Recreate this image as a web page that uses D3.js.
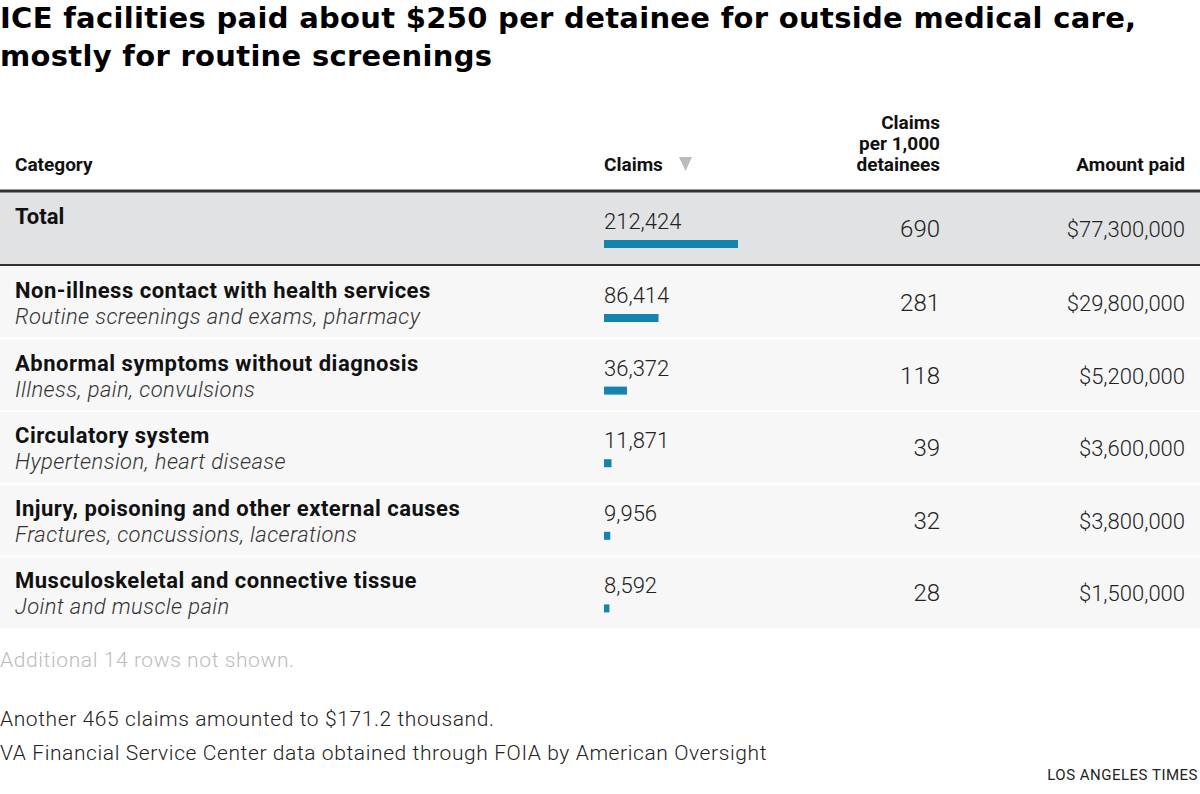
<!DOCTYPE html>
<html><head><meta charset="utf-8">
<script src="https://cdn.jsdelivr.net/npm/d3@7"></script>
<style>body{margin:0;background:#fff}</style>
</head><body>
<svg id="chart" width="1200" height="794"></svg>
<script>
const categories = ["Non-illness contact with health services", "Abnormal symptoms without diagnosis", "Circulatory system", "Injury, poisoning and other external causes", "Musculoskeletal and connective tissue"];
const subtitles = ["Routine screenings and exams, pharmacy", "Illness, pain, convulsions", "Hypertension, heart disease", "Fractures, concussions, lacerations", "Joint and muscle pain"];
const claims = [86414, 36372, 11871, 9956, 8592];
const perThousand = [281, 118, 39, 32, 28];
const amounts = [29800000, 5200000, 3600000, 3800000, 1500000];
const total = {claims: 212424, per: 690, amount: 77300000};

const svg = d3.select("#chart");
const bold = "'Roboto', sans-serif";
const light = "Roboto, sans-serif";
const fmt = d3.format(",");
const money = d => "$" + d3.format(",")(d);

svg.append("text").attr("x", 0).attr("y", 28).attr("font-family", "'DejaVu Sans', sans-serif").attr("font-weight", "bold")
  .attr("font-size", 29).attr("letter-spacing", 0.3).text("ICE facilities paid about $250 per detainee for outside medical care,");
svg.append("text").attr("x", 0).attr("y", 66).attr("font-family", "'DejaVu Sans', sans-serif").attr("font-weight", "bold")
  .attr("font-size", 29).attr("letter-spacing", 0.3).text("mostly for routine screenings");

// header
const hdr = (x, y, t, anchor) => svg.append("text").attr("x", x).attr("y", y).attr("text-anchor", anchor || "start")
  .attr("font-family", bold).attr("font-weight", "bold").attr("font-size", 19).attr("fill", "#111").text(t);
hdr(15, 171, "Category");
hdr(604, 171, "Claims");
svg.append("path").attr("d", "M679,157 L692,157 L685.5,171 Z").attr("fill", "#bbb");
hdr(940, 129, "Claims", "end");
hdr(940, 150, "per 1,000", "end");
hdr(940, 171, "detainees", "end");
hdr(1185, 171, "Amount paid", "end");

const x = d3.scaleLinear().domain([0, total.claims]).range([0, 134]);
const y = d3.scaleBand().domain(d3.range(5)).range([266, 629]);

// total row
svg.append("rect").attr("x", 0).attr("y", 192).attr("width", 1200).attr("height", 73).attr("fill", "#e1e2e4");
svg.append("line").attr("x1", 0).attr("x2", 1200).attr("y1", 191).attr("y2", 191).attr("stroke", "#333").attr("stroke-width", 3);
svg.append("line").attr("x1", 0).attr("x2", 1200).attr("y1", 265).attr("y2", 265).attr("stroke", "#333").attr("stroke-width", 2);
svg.append("text").attr("x", 15).attr("y", 224).attr("font-family", bold).attr("font-weight", "bold").attr("font-size", 22).attr("fill", "#111").text("Total");
svg.append("text").attr("x", 604).attr("y", 229).attr("font-family", light).attr("font-weight", 300).attr("font-size", 22).attr("fill", "#222").text(fmt(total.claims));
svg.append("rect").attr("x", 604).attr("y", 240).attr("width", x(total.claims)).attr("height", 8).attr("fill", "#1584ac");
svg.append("text").attr("x", 940).attr("y", 237).attr("text-anchor", "end").attr("font-family", light).attr("font-weight", 300).attr("font-size", 24).attr("fill", "#222").text(total.per);
svg.append("text").attr("x", 1185).attr("y", 237).attr("text-anchor", "end").attr("font-family", light).attr("font-weight", 300).attr("font-size", 22).attr("fill", "#222").text(money(total.amount));

const rows = svg.selectAll("g.row").data(d3.range(5)).enter().append("g").attr("class", "row")
  .attr("transform", i => "translate(0," + y(i) + ")");
rows.append("rect").attr("x", 0).attr("y", 1).attr("width", 1200).attr("height", y.bandwidth() - 2).attr("fill", "#f7f7f7");
rows.append("text").attr("x", 15).attr("y", 32).attr("font-family", bold).attr("font-weight", "bold").attr("font-size", 22).attr("letter-spacing", 0.5).attr("fill", "#111").text(i => categories[i]);
rows.append("text").attr("x", 15).attr("y", 58).attr("font-family", light).attr("font-weight", 300).attr("font-style", "italic").attr("font-size", 22).attr("letter-spacing", 0.4).attr("fill", "#333").text(i => subtitles[i]);
rows.append("text").attr("x", 604).attr("y", 37).attr("font-family", light).attr("font-weight", 300).attr("font-size", 22).attr("fill", "#222").text(i => fmt(claims[i]));
rows.append("rect").attr("x", 604).attr("y", 48).attr("width", i => Math.max(4, x(claims[i]))).attr("height", 8).attr("fill", "#1584ac");
rows.append("text").attr("x", 940).attr("y", 45).attr("text-anchor", "end").attr("font-family", light).attr("font-weight", 300).attr("font-size", 24).attr("fill", "#222").text(i => perThousand[i]);
rows.append("text").attr("x", 1185).attr("y", 45).attr("text-anchor", "end").attr("font-family", light).attr("font-weight", 300).attr("font-size", 22).attr("fill", "#222").text(i => money(amounts[i]));

const note = (yy, t, c, s) => svg.append("text").attr("x", 0).attr("y", yy).attr("font-family", light).attr("font-weight", 300).attr("font-size", s || 21).attr("letter-spacing", 0.6).attr("fill", c).text(t);
note(667, "Additional 14 rows not shown.", "#bbb");
note(726, "Another 465 claims amounted to $171.2 thousand.", "#222");
note(760, "VA Financial Service Center data obtained through FOIA by American Oversight", "#222");
svg.append("text").attr("x", 1198).attr("y", 780).attr("text-anchor", "end").attr("font-family", light).attr("font-size", 15).attr("letter-spacing", 0.5).attr("fill", "#222").text("LOS ANGELES TIMES");
</script>
</body></html>
